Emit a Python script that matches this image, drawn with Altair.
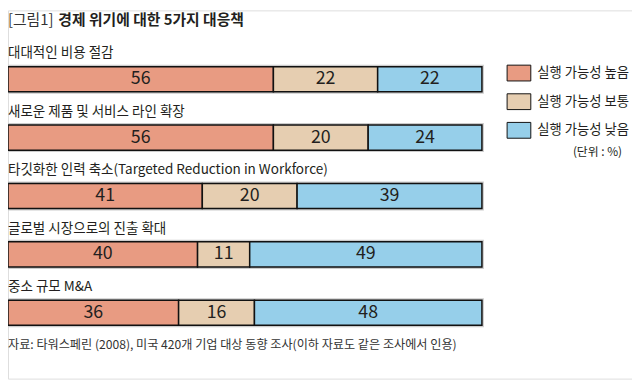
import altair as alt
import pandas as pd

categories = [
    "대대적인 비용 절감",
    "새로운 제품 및 서비스 라인 확장",
    "타깃화한 인력 축소(Targeted Reduction in Workforce)",
    "글로벌 시장으로의 진출 확대",
    "중소 규모 M&A",
]
high = [56, 56, 41, 40, 36]
mid = [22, 20, 20, 11, 16]
low = [22, 24, 39, 49, 48]
levels = ["실행 가능성 높음", "실행 가능성 보통", "실행 가능성 낮음"]
colors = ["#E89B82", "#E6CEB1", "#96CFEA"]

title_prefix = "[그림1]"
title_main = "경제 위기에 대한 5가지 대응책"
unit_note = "(단위 : %)"
source_note = "자료: 타워스페린 (2008), 미국 420개 기업 대상 동향 조사(이하 자료도 같은 조사에서 인용)"

FONT = "Noto Sans CJK KR"
TXT = "#231F20"

rows = []
for i, c in enumerate(categories):
    for j, (lv, v) in enumerate(zip(levels, [high[i], mid[i], low[i]])):
        rows.append({"category": c, "level": lv, "order": j, "value": v})
df = pd.DataFrame(rows)
frame_df = pd.DataFrame({"category": categories,
                         "total": [h + m + l for h, m, l in zip(high, mid, low)]})

yscale = alt.Scale(domain=categories, range=[57, 319], paddingInner=0.57, paddingOuter=0)
xscale = alt.Scale(domain=[0, 100], range=[0, 480])
Y = alt.Y("category:N", scale=yscale, axis=None, sort=categories)

frame = alt.Chart(frame_df).mark_bar(
    color="#CCCCCC", stroke="#CCCCCC", strokeWidth=4
).encode(
    y=Y,
    x=alt.X("zero:Q", scale=xscale, axis=None),
    x2="total:Q",
).transform_calculate(zero="0")

bars = alt.Chart(df).mark_bar(stroke="#111111", strokeWidth=1.5).encode(
    y=Y,
    x=alt.X("value:Q", stack="zero", scale=xscale, axis=None),
    order=alt.Order("order:Q"),
    color=alt.Color(
        "level:N",
        scale=alt.Scale(domain=levels, range=colors),
        legend=alt.Legend(
            title=None,
            orient="none",
            legendX=505,
            legendY=51,
            symbolType="M-1,-0.667H1V0.667H-1Z",
            symbolSize=576,
            symbolStrokeColor="#111111",
            symbolStrokeWidth=1,
            symbolOpacity=1,
            labelFont=FONT,
            labelFontSize=13.5,
            labelColor=TXT,
            labelOffset=6,
            rowPadding=6,
        ),
    ),
)

nums = alt.Chart(df).transform_stack(
    stack="value", groupby=["category"], as_=["v0", "v1"],
    sort=[alt.SortField("order", order="ascending")],
).transform_calculate(mid="(datum.v0 + datum.v1) / 2").mark_text(
    font=FONT, fontSize=18, color=TXT, baseline="middle", align="center"
).encode(
    y=Y,
    x=alt.X("mid:Q", scale=xscale, axis=None),
    text="value:Q",
)

labels = alt.Chart(frame_df).mark_text(
    font=FONT, fontSize=13.7, color=TXT, baseline="middle", align="left", dy=-26
).encode(
    y=Y,
    x=alt.value(0),
    text="category:N",
)

t1 = alt.Chart(pd.DataFrame({"t": [title_prefix]})).mark_text(
    font=FONT, fontSize=15, color="#333333", baseline="middle", align="left"
).encode(x=alt.value(0), y=alt.value(10), text="t:N")
t2 = alt.Chart(pd.DataFrame({"t": [title_main]})).mark_text(
    font=FONT, fontSize=15, fontWeight="bold", color=TXT, baseline="middle", align="left"
).encode(x=alt.value(51), y=alt.value(10), text="t:N")
unit = alt.Chart(pd.DataFrame({"t": [unit_note]})).mark_text(
    font=FONT, fontSize=12, color=TXT, baseline="middle", align="right"
).encode(x=alt.value(622), y=alt.value(144), text="t:N")
src = alt.Chart(pd.DataFrame({"t": [source_note]})).mark_text(
    font=FONT, fontSize=12.3, color="#333333", baseline="middle", align="left"
).encode(x=alt.value(0), y=alt.value(339), text="t:N")

chart = alt.layer(frame, bars, nums, labels, t1, t2, unit, src).properties(
    width=632, height=373,
    autosize=alt.AutoSizeParams(type="none"),
    padding=0,
).resolve_scale(y="shared").configure_view(stroke=None).configure(background="white")

chart.save("out.html", embed_options={"renderer": "svg", "actions": False})
